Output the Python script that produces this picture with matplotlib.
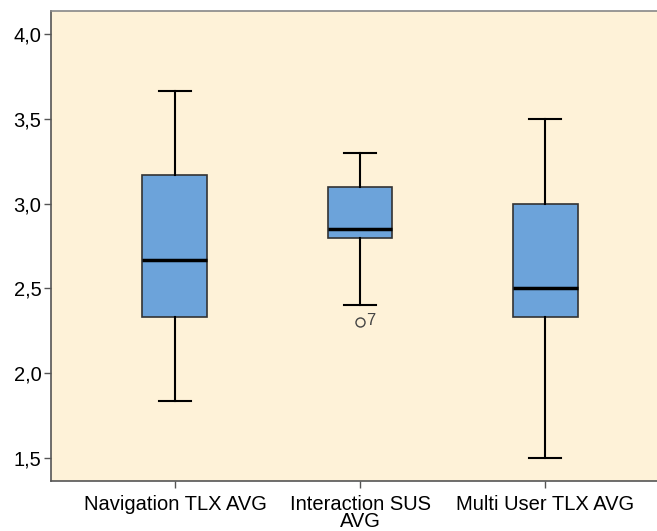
import matplotlib
matplotlib.use("Agg")
import matplotlib.pyplot as plt
from matplotlib.ticker import FuncFormatter

categories = ["Navigation TLX AVG", "Interaction SUS\nAVG", "Multi User TLX AVG"]
whislo = [1.833, 2.4, 1.5]
q1 = [2.333, 2.8, 2.333]
medians = [2.667, 2.85, 2.5]
q3 = [3.167, 3.1, 3.0]
whishi = [3.667, 3.3, 3.5]
fliers = [[], [2.3], []]
flier_labels = [[], ["7"], []]
yticks = [1.5, 2.0, 2.5, 3.0, 3.5, 4.0]

bg = "#FEF2D8"
box_color = "#6CA3DA"

fig = plt.figure(figsize=(6.57, 5.31), dpi=100)
ax = fig.add_axes([51/657, 50/531, 618/657, 470/531])
ax.set_facecolor(bg)

stats = []
for i in range(len(categories)):
    stats.append(dict(med=medians[i], q1=q1[i], q3=q3[i], whislo=whislo[i],
                      whishi=whishi[i], fliers=[], label=categories[i]))

positions = [1, 2, 3]
ax.bxp(stats, positions=positions, widths=0.351, patch_artist=True,
       showfliers=False,
       boxprops=dict(facecolor=box_color, edgecolor="#333333", linewidth=1.2),
       medianprops=dict(color="black", linewidth=2.5),
       whiskerprops=dict(color="black", linewidth=1.5),
       capprops=dict(color="black", linewidth=1.5),
       capwidths=0.178)

for i, (fl, lb) in enumerate(zip(fliers, flier_labels)):
    for v, t in zip(fl, lb):
        ax.plot(positions[i], v, marker="o", markersize=6.5, markerfacecolor="none",
                markeredgecolor="#444444", markeredgewidth=1.0, linestyle="none")
        ax.annotate(t, (positions[i], v), xytext=(4.5, 1), textcoords="offset points",
                    fontsize=12, color="#444444", va="center", ha="left",
                    family="Liberation Sans")

ax.set_xlim(0.33, 3.67)
ax.set_ylim(1.364, 4.136)
ax.set_yticks(yticks)
ax.yaxis.set_major_formatter(FuncFormatter(lambda v, p: f"{v:.1f}".replace(".", ",")))
ax.set_xticks(positions)
ax.set_xticklabels(categories, linespacing=0.85)

for lab in ax.get_xticklabels() + ax.get_yticklabels():
    lab.set_family("Liberation Sans")
    lab.set_fontsize(14.5)
    lab.set_color("black")

ax.tick_params(axis="both", direction="out", length=5, width=1, color="#555555")
ax.tick_params(axis="y", pad=2)
ax.tick_params(axis="x", pad=5)
ax.spines["left"].set_color("#555555")
ax.spines["bottom"].set_color("#555555")
ax.spines["top"].set_color("#888888")
ax.spines["right"].set_visible(False)
for s in ax.spines.values():
    s.set_linewidth(1.2)

fig.savefig("out.png", dpi=100, facecolor="white")
